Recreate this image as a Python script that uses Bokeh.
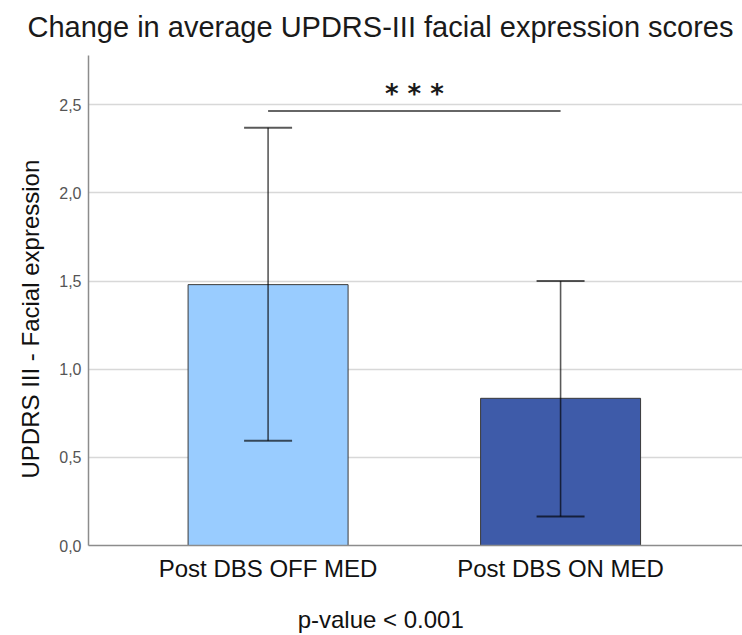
from bokeh.plotting import figure
from bokeh.models import (ColumnDataSource, Whisker, TeeHead, FixedTicker, Range1d,
                          Title, LinearAxis)
from bokeh.core.properties import value
from bokeh.embed import file_html
from bokeh.resources import INLINE

# Mean facial-expression scores with their error-bar limits
categories = ["Post DBS OFF MED", "Post DBS ON MED"]
means = [1.48, 0.835]
err_lower = [0.595, 0.165]
err_upper = [2.37, 1.50]
bar_colors = ["#99ccff", "#3e5ba9"]

y_ticks = [0.0, 0.5, 1.0, 1.5, 2.0, 2.5]
y_tick_labels = ["0,0", "0,5", "1,0", "1,5", "2,0", "2,5"]

sig_level = 2.465
sig_text = "* * *"

title_text = "Change in average UPDRS-III facial expression scores"
y_label_text = "UPDRS III - Facial expression"
footer_text = "p-value < 0.001"

FONT = "Liberation Sans"
FOOTER_X = 0.385  # horizontal anchor of the footer note, in x-axis units

xs = list(range(len(categories)))
src = ColumnDataSource(dict(x=xs, mean=means, lower=err_lower, upper=err_upper,
                            color=bar_colors))

p = figure(width=742, height=635,
           x_range=Range1d(-0.614, 1.622), y_range=Range1d(0, 2.78),
           output_backend="svg", toolbar_location=None,
           min_border_left=88, min_border_right=0,
           min_border_top=55, min_border_bottom=90)
p.outline_line_color = None
p.background_fill_color = "white"

p.title = Title(text=title_text, text_font=FONT, text_font_size="29px",
                text_font_style="normal", text_color="#1a1a1a",
                align="left", offset=-61, vertical_align="top", standoff=21)

# horizontal grid only
p.xgrid.grid_line_color = None
p.ygrid.ticker = FixedTicker(ticks=y_ticks[1:])
p.ygrid.grid_line_color = "#d8d8d8"
p.ygrid.grid_line_width = 1.5

p.vbar(x="x", top="mean", bottom=0, width=0.547, source=src,
       fill_color="color", line_color="#3a3a3a", line_width=1)

whisk = Whisker(base="x", lower="lower", upper="upper", source=src, level="overlay",
                line_color="black", line_alpha=0.65, line_width=1.6,
                upper_head=TeeHead(size=48, line_color="black", line_alpha=0.65, line_width=2),
                lower_head=TeeHead(size=48, line_color="black", line_alpha=0.65, line_width=2))
p.add_layout(whisk)

# significance bracket between the two bars
p.segment(x0=[xs[0]], x1=[xs[1]], y0=[sig_level], y1=[sig_level],
          line_color="#333333", line_width=1.5)
p.text(x=[(xs[0] + xs[1]) / 2], y=[sig_level], text=[sig_text],
       text_font=value("DejaVu Sans"), text_font_size="26px", text_font_style="bold",
       text_align="center", text_baseline="alphabetic", text_color="#1a1a1a",
       y_offset=-17)

# axes
for ax in (p.xaxis[0], p.yaxis[0]):
    ax.major_tick_line_color = None
    ax.minor_tick_line_color = None
    ax.axis_line_color = "#8c8c8c"
    ax.axis_line_width = 1.5

p.yaxis.ticker = FixedTicker(ticks=y_ticks)
p.yaxis.major_label_overrides = dict(zip(y_ticks, y_tick_labels))
p.yaxis.major_label_text_font = FONT
p.yaxis.major_label_text_font_size = "16px"
p.yaxis.major_label_text_color = "#555555"
p.yaxis.major_label_standoff = 1

p.xaxis.ticker = FixedTicker(ticks=xs)
p.xaxis.major_label_overrides = dict(zip(xs, categories))
p.xaxis.major_label_text_font = FONT
p.xaxis.major_label_text_font_size = "24px"
p.xaxis.major_label_text_color = "#111111"
p.xaxis.major_label_standoff = 3

# footer note carried by a bare second axis below the category labels
footer_axis = LinearAxis(ticker=FixedTicker(ticks=[FOOTER_X]),
                         major_label_overrides={FOOTER_X: footer_text},
                         axis_line_color=None, major_tick_line_color=None,
                         minor_tick_line_color=None,
                         major_label_text_font=FONT, major_label_text_font_size="24px",
                         major_label_text_color="#111111", major_label_standoff=15)
p.add_layout(footer_axis, "below")

p.add_layout(Title(text=y_label_text, text_font=FONT, text_font_size="24px",
                   text_font_style="normal", text_color="#111111",
                   align="left", offset=67, standoff=26), "left")

open("out.html", "w").write(file_html(p, INLINE))
